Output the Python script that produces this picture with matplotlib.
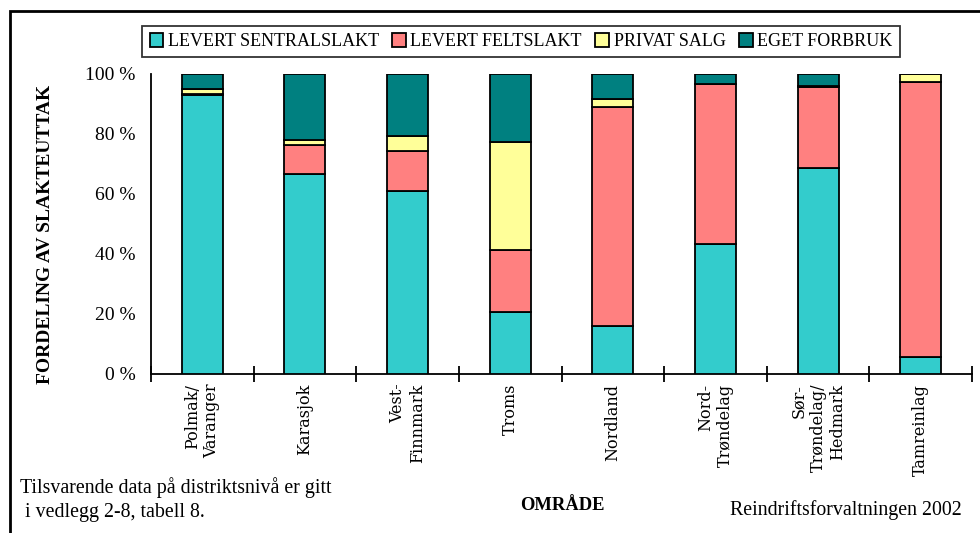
import matplotlib
matplotlib.use("Agg")
import matplotlib.pyplot as plt
from matplotlib.patches import Rectangle
import numpy as np

categories = ["Polmak/\nVaranger", "Karasjok", "Vest-\nFinnmark", "Troms", "Nordland",
              "Nord-\nTrøndelag", "Sør-\nTrøndelag/\nHedmark", "Tamreinlag"]
series_names = ["LEVERT SENTRALSLAKT", "LEVERT FELTSLAKT", "PRIVAT SALG", "EGET FORBRUK"]
sentralslakt = [93.0, 66.7, 61.1, 20.6, 16.1, 43.3, 68.8, 5.8]
feltslakt = [0.5, 9.6, 13.3, 20.7, 72.9, 53.5, 26.9, 91.6]
privat_salg = [1.5, 1.7, 4.9, 35.9, 2.6, 0.0, 0.4, 2.6]
eget_forbruk = [5.0, 22.0, 20.7, 22.8, 8.4, 3.2, 3.9, 0.0]
ytick_vals = [0, 20, 40, 60, 80, 100]
ytick_labels = ["0 %", "20 %", "40 %", "60 %", "80 %", "100 %"]

colors = ["#33CCCC", "#FF8080", "#FFFF99", "#008080"]
serif = ["Liberation Serif", "DejaVu Serif"]

fig = plt.figure(figsize=(9.8, 5.33), dpi=100)
ax = fig.add_axes([151/980, 1-374/533, (972-151)/980, 300/533])

x = np.arange(len(categories))
bottom = np.zeros(len(categories))
handles = []
for vals, name, c in zip([sentralslakt, feltslakt, privat_salg, eget_forbruk], series_names, colors):
    b = ax.bar(x, vals, width=0.4, bottom=bottom, color=c, edgecolor="black",
               linewidth=1.3, label=name, zorder=3)
    handles.append(b)
    bottom += np.array(vals)

ax.set_xlim(-0.5, len(categories) - 0.5)
ax.set_ylim(0, 100)
for s in ["top", "right"]:
    ax.spines[s].set_visible(False)
for s in ["left", "bottom"]:
    ax.spines[s].set_linewidth(1.3)

ax.set_yticks(ytick_vals)
ax.set_yticklabels(ytick_labels, fontfamily=serif, fontsize=14)
ax.tick_params(axis="y", length=0, pad=11)

ax.set_xticks(np.arange(-0.5, len(categories), 1.0))
ax.set_xticklabels([])
ax.tick_params(axis="x", which="major", direction="inout", length=12, width=1.3)
ax.set_xticks(x, minor=True)
ax.set_xticklabels(categories, minor=True, rotation=90, fontfamily=["DejaVu Serif"],
                   fontsize=11.5, va="top", ha="center", multialignment="right")
ax.tick_params(axis="x", which="minor", length=0, pad=7)

leg = fig.legend(handles=handles, labels=series_names, loc="upper center",
                 bbox_to_anchor=(521/980, 1-26/533), ncol=4, frameon=True,
                 fancybox=False, edgecolor="black", handlelength=0.75, handleheight=0.75,
                 handletextpad=0.25, columnspacing=0.75, borderpad=0.4, borderaxespad=0,
                 prop={"family": serif, "size": 13})
leg.get_frame().set_linewidth(1.3)

fig.text(45/980, 1-234/533, "FORDELING AV SLAKTEUTTAK", rotation=90, ha="center",
         va="center", fontfamily=serif, fontweight="bold", fontsize=14)
fig.text(562/980, 1-505/533, "OMRÅDE", ha="center", va="center",
         fontfamily=serif, fontweight="bold", fontsize=13.3)
fig.text(20/980, 1-488/533, "Tilsvarende data på distriktsnivå er gitt", ha="left",
         va="center", fontfamily=serif, fontsize=14.3)
fig.text(20/980, 1-512/533, " i vedlegg 2-8, tabell 8.", ha="left",
         va="center", fontfamily=serif, fontsize=14.3)
fig.text(962/980, 1-510/533, "Reindriftsforvaltningen 2002", ha="right",
         va="center", fontfamily=serif, fontsize=14.3)

fig.add_artist(Rectangle((10/980, -0.1), 1.2, 1.1 - 11/533, transform=fig.transFigure,
                         fill=False, edgecolor="black", linewidth=2))

fig.savefig("out.png", dpi=100)
